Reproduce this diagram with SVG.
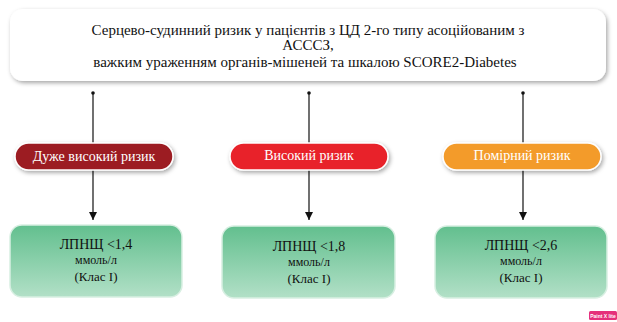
<svg xmlns="http://www.w3.org/2000/svg" width="617" height="322" viewBox="0 0 617 322">
<style>
.t{font-family:"Liberation Serif","Times New Roman",serif;text-anchor:middle;fill:#111}
.pt{font-family:"Liberation Serif","Times New Roman",serif;text-anchor:middle;fill:#fff;font-size:14px}
.ln{stroke:#111;stroke-width:1.2;fill:none}
.pill{stroke:#fff;stroke-width:1.5}
.gbox{fill:url(#g);stroke:#d8efe2;stroke-width:1.5}
</style>
<defs>
<linearGradient id="g" x1="0" y1="0" x2="0" y2="1">
<stop offset="0" stop-color="#62bf8e"/>
<stop offset="1" stop-color="#b2e0c7"/>
</linearGradient>
<filter id="sh" x="-10%" y="-20%" width="120%" height="150%">
<feDropShadow dx="1.5" dy="2" stdDeviation="2" flood-color="#000" flood-opacity="0.35"/>
</filter>
<marker id="ah" viewBox="0 0 10 10" refX="10" refY="5" markerWidth="7" markerHeight="7" orient="auto">
<path d="M0,0 L10,5 L0,10 z" fill="#111"/>
</marker>
</defs>
<rect width="617" height="322" fill="#fff"/>
<g id="top">
<rect x="10" y="9" width="596" height="72" rx="13" fill="#fff" filter="url(#sh)"/>
<text class="t" font-size="15" x="308" y="35">Серцево-судинний ризик у пацієнтів з ЦД 2-го типу асоційованим з</text>
<text class="t" font-size="15" x="308" y="50">АСССЗ,</text>
<text class="t" font-size="15" x="305" y="67">важким ураженням органів-мішеней та шкалою SCORE2-Diabetes</text>
</g>
<g id="connectors">
<circle cx="93" cy="93" r="1.8" fill="#111"/>
<circle cx="309" cy="93" r="1.8" fill="#111"/>
<circle cx="523" cy="93" r="1.8" fill="#111"/>
<line class="ln" x1="93" y1="93" x2="93" y2="144"/>
<line class="ln" x1="309" y1="93" x2="309" y2="144"/>
<line class="ln" x1="523" y1="93" x2="523" y2="144"/>
<line class="ln" x1="93" y1="170" x2="93" y2="220" marker-end="url(#ah)"/>
<line class="ln" x1="309" y1="170" x2="309" y2="220" marker-end="url(#ah)"/>
<line class="ln" x1="523" y1="170" x2="523" y2="220" marker-end="url(#ah)"/>
</g>
<g id="p1">
<rect class="pill" x="15" y="143" width="158" height="27" rx="13.5" fill="#9c1c22" filter="url(#sh)"/>
<text class="pt" x="94" y="161">Дуже високий ризик</text>
</g>
<g id="p2">
<rect class="pill" x="230" y="143" width="158" height="27" rx="13.5" fill="#e8222a" filter="url(#sh)"/>
<text class="pt" x="309" y="160">Високий ризик</text>
</g>
<g id="p3">
<rect class="pill" x="443" y="143" width="158" height="27" rx="13.5" fill="#f39b2c" filter="url(#sh)"/>
<text class="pt" x="522" y="160">Помірний ризик</text>
</g>
<g id="b1">
<rect class="gbox" x="10" y="225" width="172" height="72" rx="12"/>
<text class="t" font-size="14" x="96" y="249">ЛПНЩ &lt;1,4</text>
<text class="t" font-size="12" x="96" y="264">ммоль/л</text>
<text class="t" font-size="13" x="96" y="281">(Клас I)</text>
</g>
<g id="b2">
<rect class="gbox" x="222" y="226" width="173" height="72" rx="12"/>
<text class="t" font-size="14" x="309" y="251">ЛПНЩ &lt;1,8</text>
<text class="t" font-size="12" x="309" y="266">ммоль/л</text>
<text class="t" font-size="13" x="309" y="283">(Клас I)</text>
</g>
<g id="b3">
<rect class="gbox" x="435" y="226" width="172" height="72" rx="12"/>
<text class="t" font-size="14" x="521" y="250">ЛПНЩ &lt;2,6</text>
<text class="t" font-size="12" x="521" y="265">ммоль/л</text>
<text class="t" font-size="13" x="521" y="282">(Клас I)</text>
</g>
<g id="wm">
<rect x="589" y="311" width="28" height="9" rx="1.5" fill="#e5307a"/>
<text x="603" y="318" font-family="Liberation Sans,Arial,sans-serif" font-size="5" font-weight="bold" fill="#fff" text-anchor="middle">Paint X lite</text>
</g>
</svg>
